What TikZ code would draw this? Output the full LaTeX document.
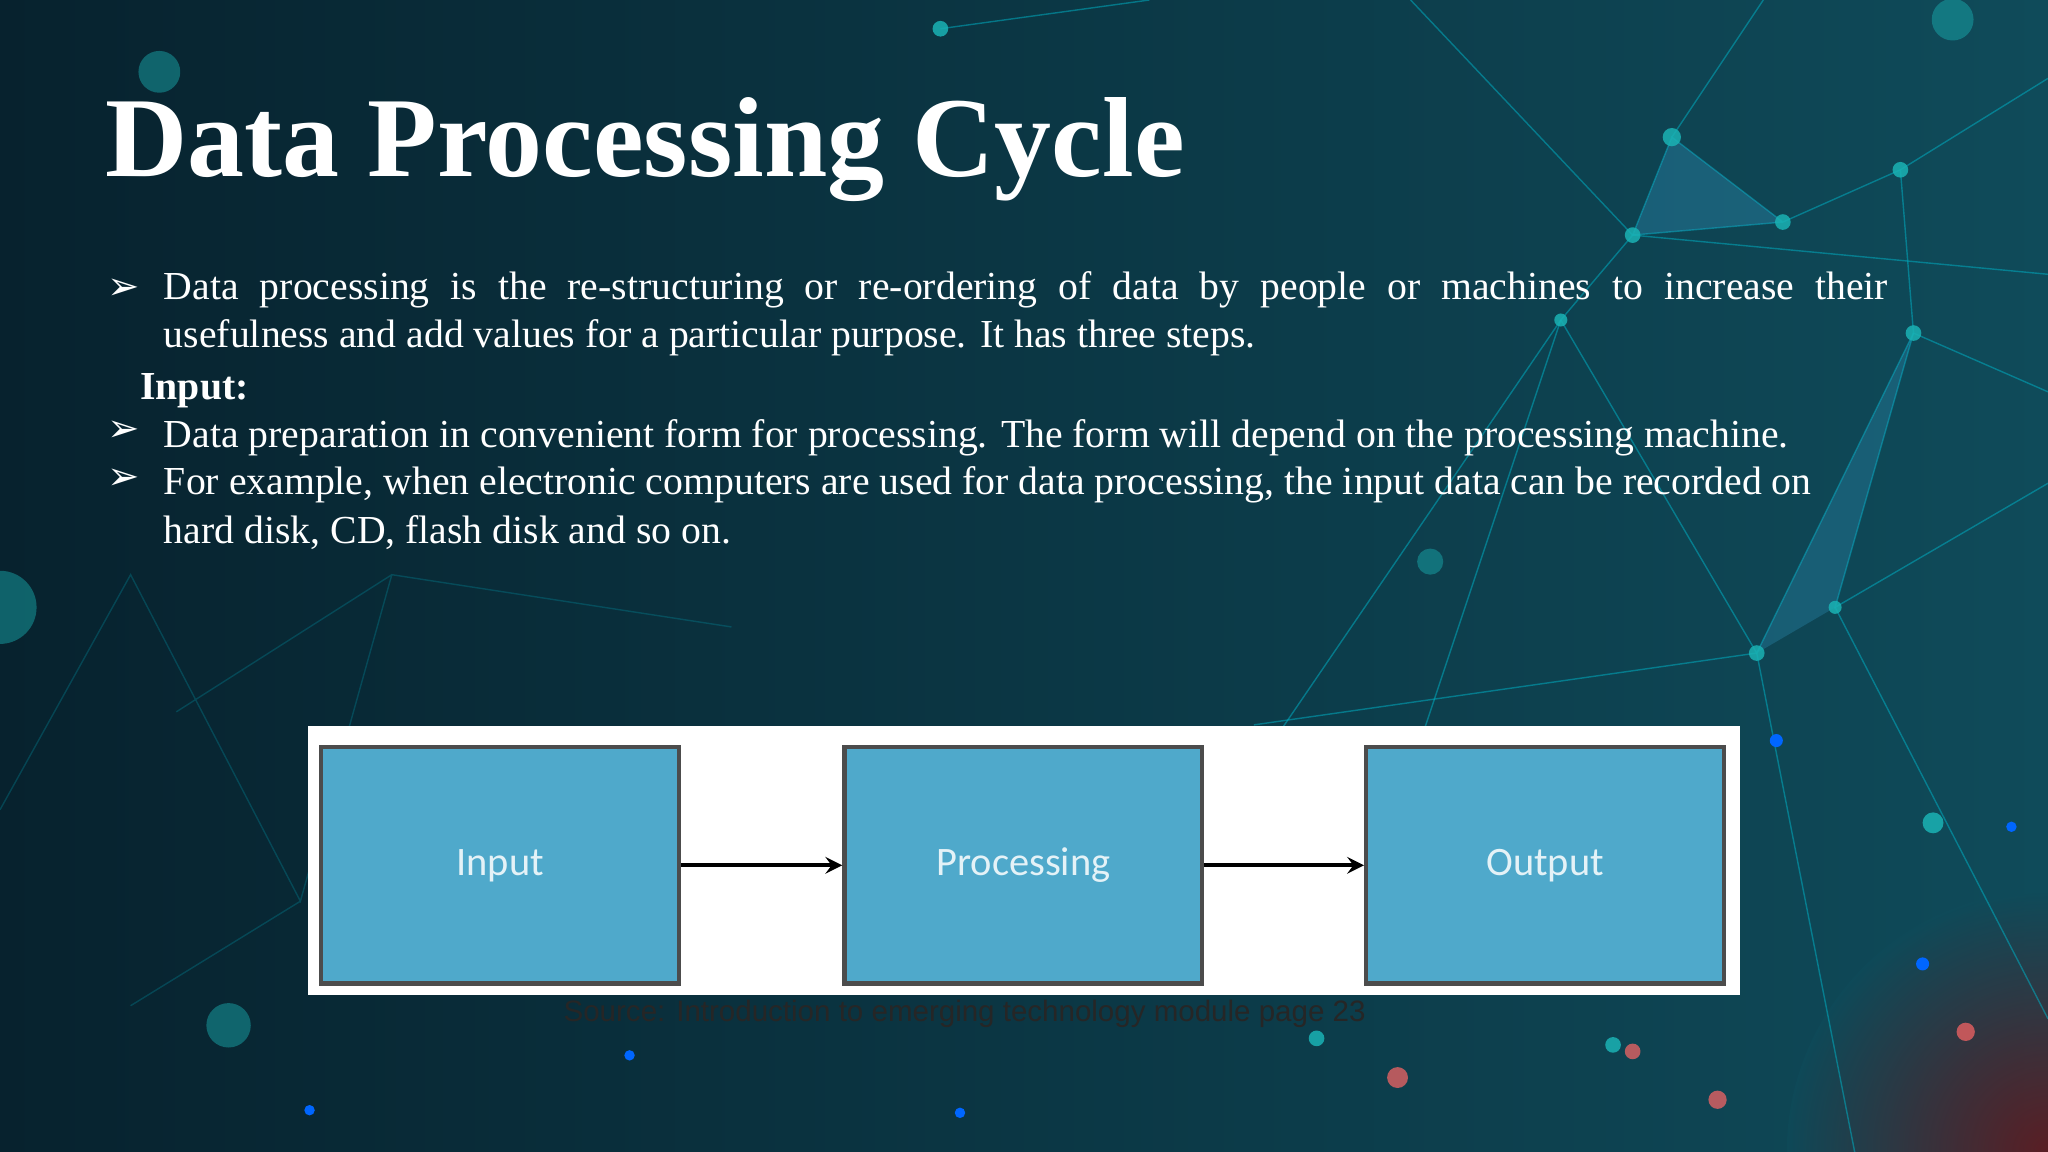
\documentclass[tikz,border=0pt]{standalone}
\usepackage{fontspec}
\setmainfont{Liberation Serif}
\newfontfamily\djv{DejaVu Sans}
\newfontfamily\carl{Carlito}
\newfontfamily\lsans{Liberation Sans}
\begin{document}
\begin{tikzpicture}[x=0.013061cm,y=-0.013061cm,
  stepbox/.style={draw=black!70,line width=1.2pt,fill=boxblue,minimum width=274*0.013061cm,minimum height=181*0.013061cm,inner sep=0pt,text=white!85!boxblue,font=\carl\fontsize{11.5}{13}\selectfont},
  arr/.style={->,>=stealth,line width=1.1pt,black},
  net/.style={cyan!70!green,line width=0.4pt,opacity=0.55},
  dot/.style={fill=cyan!60!green!90!white,opacity=0.85}]
\definecolor{boxblue}{HTML}{4FA9CB}
\definecolor{bgl}{HTML}{07222E}
\definecolor{bgr}{HTML}{0F4B5A}
\useasboundingbox (0,0) rectangle (1568,882);
\shade[left color=bgl,right color=bgr] (0,0) rectangle (1568,882);
\begin{scope}
\clip (0,0) rectangle (1568,882);
\shade[inner color=red!55!black,outer color=bgr,opacity=0.6] (1568,882) circle (200);
\end{scope}
% network lines
\draw[net] (1250,180) -- (1365,170) -- (1455,130) -- (1465,255) -- (1345,500) -- (1195,245) -- (1250,180) -- (1280,105) -- (1365,170);
\draw[net] (1465,255) -- (1405,465) -- (1568,370);
\draw[net] (1345,500) -- (960,555) (1345,500) -- (1420,882) (1405,465) -- (1568,780);
\draw[net] (1195,245) -- (1090,560) (1250,180) -- (1568,210) (1080,0) -- (1250,180);
\draw[net] (1455,130) -- (1568,60) (720,22) -- (880,0) (1280,105) -- (1350,0);
\draw[net] (1195,245) -- (980,560) (1465,255) -- (1568,300);
\draw[net,opacity=0.25] (0,620) -- (100,440) -- (230,690) -- (300,440) -- (560,480) (100,770) -- (230,690) (135,545) -- (300,440);
\fill[cyan!50!teal,opacity=0.35] (1250,180) -- (1280,105) -- (1365,170) -- cycle;
\fill[cyan!50!teal,opacity=0.3] (1465,255) -- (1345,500) -- (1405,465) -- cycle;
\foreach \p/\r in {{(720,22)/6},{(1250,180)/6},{(1365,170)/6},{(1455,130)/6},{(1465,255)/6},{(1345,500)/6},{(1405,465)/5},{(1195,245)/5},{(1280,105)/7},{(1008,795)/6},{(1235,800)/6},{(1480,630)/8}}
  \fill[dot] \p circle (\r);
\foreach \p/\r in {{(1095,430)/10},{(1495,15)/16},{(122,55)/16},{(175,785)/17},{(0,465)/28}}
  \fill[dot,opacity=0.45] \p circle (\r);
\fill[blue!60!cyan] (1360,567) circle (5) (1540,633) circle (4) (1472,738) circle (5) (482,808) circle (4) (735,852) circle (4) (237,850) circle (4);
\fill[red!60,opacity=0.7] (1070,825) circle (8) (1315,842) circle (7) (1505,790) circle (7) (1250,805) circle (6);
% title
\node[anchor=base west,inner sep=0pt,text=white,font=\fontsize{32.4}{36}\selectfont\bfseries] (title) at (80,135) {Data Processing Cycle};
% bullets
\tikzset{bul/.style={anchor=base west,inner sep=0pt,text=white,font=\djv\fontsize{11}{12}\selectfont},
 txt/.style={anchor=base west,inner sep=0pt,text=white,font=\fontsize{11.3}{13.8}\selectfont,align=justify,text width=1320*0.013061cm}}
\node[bul] (b1) at (82,229) {➢};
\node[txt,anchor=north west] (t1) at (125,207) {Data processing is the re-structuring or re-ordering of data by people or machines to increase their\linebreak usefulness and add values for a particular purpose. It has three steps.};
\node[anchor=base west,inner sep=0pt,text=white,font=\fontsize{11.3}{13}\selectfont\bfseries] (inp) at (107,306) {Input:};
\node[bul] (b2) at (82,338) {➢};
\node[anchor=base west,inner sep=0pt,text=white,font=\fontsize{11.3}{13}\selectfont] (t2) at (125,343) {Data preparation in convenient form for processing. The form will depend on the processing machine.};
\node[bul] (b3) at (82,375) {➢};
\node[anchor=north west,inner sep=0pt,text=white,font=\fontsize{11.3}{13.8}\selectfont,align=left] (t3) at (125,357) {For example, when electronic computers are used for data processing, the input data can be recorded on\\hard disk, CD, flash disk and so on.};
% diagram
\fill[white] (236,556) rectangle (1332,762);
\node[stepbox] (in) at (383,662.5) {\raisebox{-3pt}{Input}};
\node[stepbox] (pr) at (783.5,662.5) {\raisebox{-3pt}{Processing}};
\node[stepbox] (out) at (1183,662.5) {\raisebox{-3pt}{Output}};
\draw[arr] (in) -- (pr);
\draw[arr] (pr) -- (out);
\node[anchor=base west,inner sep=0pt,text=black!85,font=\lsans\fontsize{8.4}{10}\selectfont] (src) at (431,782) {Source: Introduction to emerging technology module page 23};
\end{tikzpicture}
\end{document}
